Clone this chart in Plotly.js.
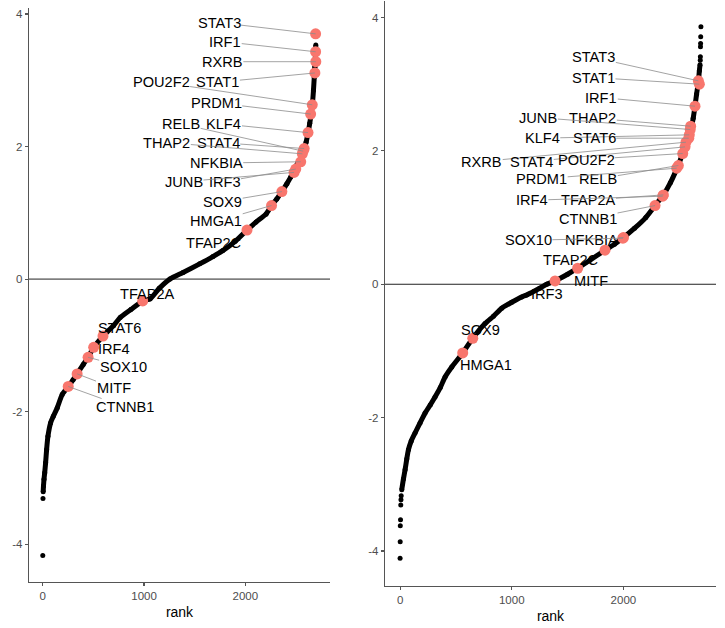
<!DOCTYPE html>
<html>
<head>
<meta charset="utf-8">
<script src="https://cdn.plot.ly/plotly-3.0.1.min.js"></script>
<style>
html,body{margin:0;padding:0;background:#fff;}
#chart{width:725px;height:628px;}
</style>
</head>
<body>
<div id="chart"></div>
<script>
// ---------- Left panel data ----------
const leftCurveRank = [5,8,13,20,29,39,52,78,105,144,193,252,300,340,400,448,503,595,700,765,870,987,1059,1150,1255,1385,1549,1680,1777,1900,2016,2105,2203,2258,2310,2360,2410,2448,2480,2513,2546,2578,2600,2618,2635,2650,2662,2672,2680,2686,2692,2695];
const leftCurveVal  = [-3.21,-3.12,-3.02,-2.92,-2.77,-2.57,-2.37,-2.17,-2.07,-1.94,-1.74,-1.62,-1.52,-1.43,-1.29,-1.18,-1.03,-0.86,-0.70,-0.58,-0.46,-0.33,-0.30,-0.14,0.00,0.10,0.23,0.34,0.43,0.57,0.74,0.86,0.98,1.11,1.21,1.32,1.44,1.54,1.62,1.74,1.82,1.95,2.07,2.20,2.35,2.50,2.65,2.85,3.05,3.20,3.40,3.53];
const leftTailRank = [1,3];
const leftTailVal  = [-4.17,-3.31];

const leftGenes    = ['STAT3','IRF1','RXRB','STAT1','POU2F2','PRDM1','KLF4','STAT4','RELB','THAP2','NFKBIA','IRF3','JUNB','SOX9','HMGA1','TFAP2C','TFAP2A','STAT6','IRF4','SOX10','MITF','CTNNB1'];
const leftGeneRank = [2693,2693,2695,2686,2660,2644,2618,2580,2570,2562,2546,2497,2480,2360,2258,2016,987,595,503,448,340,252];
const leftGeneVal  = [3.70,3.43,3.28,3.11,2.63,2.49,2.21,1.97,1.93,1.89,1.77,1.66,1.61,1.32,1.11,0.74,-0.33,-0.86,-1.03,-1.18,-1.43,-1.62];

// ---------- Right panel data ----------
const rightCurveRank = [15,30,45,60,75,100,134,179,224,270,313,360,403,463,561,651,761,836,910,1000,1089,1134,1250,1313,1388,1500,1590,1700,1835,1920,2000,2100,2200,2283,2358,2420,2470,2500,2531,2560,2590,2610,2625,2641,2655,2671,2680,2686];
const rightCurveVal  = [-3.08,-2.92,-2.78,-2.62,-2.48,-2.35,-2.23,-2.08,-1.93,-1.81,-1.69,-1.55,-1.39,-1.24,-1.03,-0.81,-0.59,-0.48,-0.36,-0.27,-0.19,-0.16,-0.06,0.00,0.05,0.15,0.24,0.36,0.51,0.60,0.70,0.84,1.00,1.18,1.34,1.52,1.70,1.82,1.96,2.09,2.24,2.36,2.49,2.67,2.85,3.03,3.20,3.29];
const rightTailRank = [0,1,2,4,6,8,10,2688,2689,2690,2691,2692,2694];
const rightTailVal  = [-4.11,-3.86,-3.62,-3.53,-3.31,-3.23,-3.17,3.36,3.41,3.56,3.61,3.71,3.86];

const rightGenes    = ['STAT3','STAT1','IRF1','THAP2','JUNB','KLF4','STAT6','RXRB','STAT4','POU2F2','RELB','PRDM1','TFAP2A','IRF4','CTNNB1','NFKBIA','SOX10','TFAP2C','MITF','IRF3','SOX9','HMGA1'];
const rightGeneRank = [2671,2680,2641,2602,2598,2590,2585,2560,2552,2531,2492,2477,2358,2352,2283,2000,1995,1835,1590,1388,651,561];
const rightGeneVal  = [3.05,3.00,2.67,2.37,2.32,2.24,2.19,2.13,2.06,1.96,1.78,1.74,1.34,1.32,1.18,0.70,0.69,0.51,0.24,0.05,-0.81,-1.03];

// ---------- Tick labels ----------
const xTickVals = [0,1000,2000];
const xTickText = ['0','1000','2000'];
const yTickVals = [-4,-2,0,2,4];
const yTickText = ['-4','-2','0','2','4'];

// ---------- Label placement (layout, not data) ----------
const leftLabelX = [1740,1801,1773,1729,1168,1712,1789,1732,1366,1225,1712,1794,1394,1776,1712,1684,1037,757,708,794,699,814];
const leftLabelY = [3.87,3.58,3.28,2.97,2.97,2.66,2.34,2.06,2.34,2.06,1.75,1.47,1.47,1.17,0.87,0.54,-0.23,-0.74,-1.05,-1.32,-1.64,-1.93];
const leftSeg    = [1,1,1,1,1,1,1,1,1,1,1,1,1,1,1,0,0,0,0,1,1,1];
const rightLabelX = [1735,1732,1802,1726,1239,1273,1739,731,1179,1665,1775,1268,1683,1180,1683,1713,1149,1522,1713,1319,724,770];
const rightLabelY = [3.40,3.10,2.80,2.49,2.50,2.19,2.19,1.84,1.84,1.87,1.58,1.58,1.26,1.26,0.98,0.66,0.66,0.36,0.05,-0.15,-0.69,-1.21];
const rightSeg    = [1,1,1,1,1,1,1,1,1,1,1,1,1,1,1,1,1,0,0,0,0,0];

const FONT = 'Liberation Sans, Arial, sans-serif';
const RED = '#F8766D';

const traces = [
  {x:leftCurveRank, y:leftCurveVal, xaxis:'x', yaxis:'y', mode:'lines+markers', line:{color:'#000', width:5, shape:'spline', smoothing:0.6}, marker:{color:'#000', size:5}, hoverinfo:'skip', showlegend:false},
  {x:leftTailRank, y:leftTailVal, xaxis:'x', yaxis:'y', mode:'markers', marker:{color:'#000', size:5}, hoverinfo:'skip', showlegend:false},
  {x:leftGeneRank, y:leftGeneVal, text:leftGenes, xaxis:'x', yaxis:'y', mode:'markers', marker:{color:RED, size:11}, showlegend:false},
  {x:rightCurveRank, y:rightCurveVal, xaxis:'x2', yaxis:'y2', mode:'lines+markers', line:{color:'#000', width:5, shape:'spline', smoothing:0.6}, marker:{color:'#000', size:5}, hoverinfo:'skip', showlegend:false},
  {x:rightTailRank, y:rightTailVal, xaxis:'x2', yaxis:'y2', mode:'markers', marker:{color:'#000', size:5}, hoverinfo:'skip', showlegend:false},
  {x:rightGeneRank, y:rightGeneVal, text:rightGenes, xaxis:'x2', yaxis:'y2', mode:'markers', marker:{color:RED, size:11}, showlegend:false}
];

function makeLabels(genes, gx, gy, lx, ly, seg, xr, yr) {
  return genes.map((g, i) => {
    if (seg[i]) {
      return {text:g, x:gx[i], y:gy[i], xref:xr, yref:yr, ax:lx[i], ay:ly[i], axref:xr, ayref:yr,
        showarrow:true, arrowhead:0, arrowwidth:0.8, arrowcolor:'#8c8c8c', standoff:0, startstandoff:0,
        font:{family:FONT, size:14.6, color:'#000'}, borderpad:0};
    }
    return {text:g, x:lx[i], y:ly[i], xref:xr, yref:yr, showarrow:false,
      font:{family:FONT, size:14.6, color:'#000'}, borderpad:0};
  });
}

const annotations = [].concat(
  makeLabels(leftGenes, leftGeneRank, leftGeneVal, leftLabelX, leftLabelY, leftSeg, 'x', 'y'),
  makeLabels(rightGenes, rightGeneRank, rightGeneVal, rightLabelX, rightLabelY, rightSeg, 'x2', 'y2')
);

const axisCommon = {
  showgrid:false, zeroline:false, showline:true, linecolor:'#555', linewidth:1.2,
  ticks:'outside', ticklen:3, tickcolor:'#555', tickwidth:1.1,
  tickfont:{family:FONT, size:11.5, color:'#4d4d4d'}, tickmode:'array'
};

const layout = {
  width:725, height:628,
  margin:{l:0, r:0, t:0, b:0},
  paper_bgcolor:'#fff', plot_bgcolor:'#fff',
  font:{family:FONT},
  showlegend:false,
  xaxis: Object.assign({}, axisCommon, {domain:[29/725, 330/725], range:[-135, 2835], tickvals:xTickVals, ticktext:xTickText, anchor:'y',
    title:{text:'rank', font:{family:FONT, size:14, color:'#000'}, standoff:6}}),
  yaxis: Object.assign({}, axisCommon, {domain:[1-582/628, 1-8/628], range:[-4.57, 4.09], tickvals:yTickVals, ticktext:yTickText, anchor:'x'}),
  xaxis2: Object.assign({}, axisCommon, {domain:[385/725, 716/725], range:[-135, 2829], tickvals:xTickVals, ticktext:xTickText, anchor:'y2',
    title:{text:'rank', font:{family:FONT, size:14, color:'#000'}, standoff:6}}),
  yaxis2: Object.assign({}, axisCommon, {domain:[1-585.7/628, 1-0.8/628], range:[-4.52, 4.25], tickvals:yTickVals, ticktext:yTickText, anchor:'x2'}),
  shapes:[
    {type:'line', xref:'x domain', yref:'y', x0:0, x1:1, y0:0, y1:0, line:{color:'#222', width:1}, layer:'below'},
    {type:'line', xref:'x2 domain', yref:'y2', x0:0, x1:1, y0:0, y1:0, line:{color:'#222', width:1}, layer:'below'}
  ],
  annotations: annotations
};

Plotly.newPlot('chart', traces, layout, {displayModeBar:false, staticPlot:true});
</script>
</body>
</html>
